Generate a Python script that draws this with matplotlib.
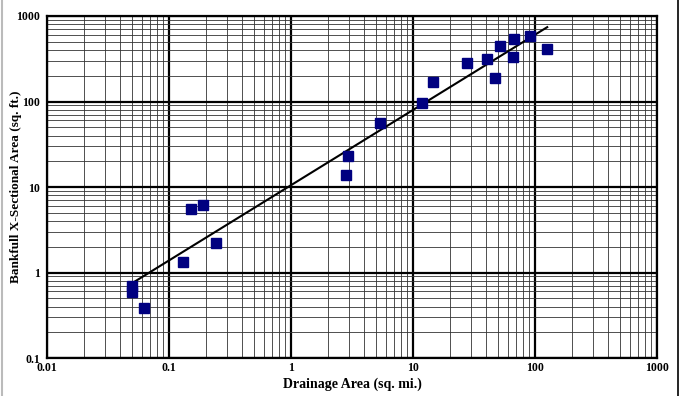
import numpy as np
import matplotlib
matplotlib.use("Agg")
import matplotlib.pyplot as plt
from matplotlib.lines import Line2D

# drainage area (sq. mi.) vs bankfull cross-sectional area (sq. ft.)
area_mi = [0.05, 0.05, 0.062, 0.131, 0.152, 0.19, 0.244, 2.82, 2.92, 5.4,
           11.8, 14.5, 27.5, 46.6, 40.8, 51.2, 66.6, 67.9, 91.7, 126]
xsec_ft = [0.69, 0.585, 0.38, 1.31, 5.5, 6.2, 2.23, 13.8, 22.9, 55.5,
           94.8, 171, 284, 190, 316, 448, 334, 540, 585, 413]

# regression line  A = a * DA^b
coef_a = 10.5
coef_b = 0.88
line_x = [0.05, 126]

x_ticks = [0.01, 0.1, 1, 10, 100, 1000]
x_labels = ["0.01", "0.1", "1", "10", "100", "1000"]
y_ticks = [0.1, 1, 10, 100, 1000]
y_labels = ["0.1", "1", "10", "100", "1000"]

plt.rcParams['font.family'] = ['Liberation Serif', 'DejaVu Serif']
plt.rcParams['font.weight'] = 'bold'

fig = plt.figure(figsize=(6.84, 3.96), dpi=100)
ax = fig.add_axes([0.0687, 0.0959, 0.8918, 0.8637])
ax.set_xscale('log')
ax.set_yscale('log')
ax.set_xlim(0.01, 1000)
ax.set_ylim(0.1, 1000)

ax.grid(True, which='major', color='black', linewidth=1.6)
ax.grid(True, which='minor', color='#333333', linewidth=0.6)
ax.set_axisbelow(True)

lx = np.array(line_x)
ax.plot(lx, coef_a * lx ** coef_b, color='black', linewidth=1.5, zorder=3)
ax.plot(area_mi, xsec_ft, 's', color='#000080', markersize=7.5, zorder=4,
        linestyle='none')

ax.set_xticks(x_ticks)
ax.set_xticklabels(x_labels)
ax.set_yticks(y_ticks)
ax.set_yticklabels(y_labels)
ax.tick_params(which='both', length=0, labelsize=8.5)
ax.tick_params(axis='x', pad=3)
ax.tick_params(axis='y', pad=5)
for s in ax.spines.values():
    s.set_linewidth(1.6)

ax.set_xlabel('Drainage Area (sq. mi.)', fontsize=10, fontweight='bold')
ax.set_ylabel('Bankfull X-Sectional Area (sq. ft.)', fontsize=9.5, fontweight='bold')
ax.xaxis.set_label_coords(0.5, -0.058)
ax.yaxis.set_label_coords(-0.041, 0.5)

fig.add_artist(Line2D([0.003, 0.003], [0, 1], color='#bbbbbb', linewidth=1.5))
fig.add_artist(Line2D([0.991, 0.991], [0, 1], color='black', linewidth=1.2))

fig.savefig('out.png', dpi=100)
